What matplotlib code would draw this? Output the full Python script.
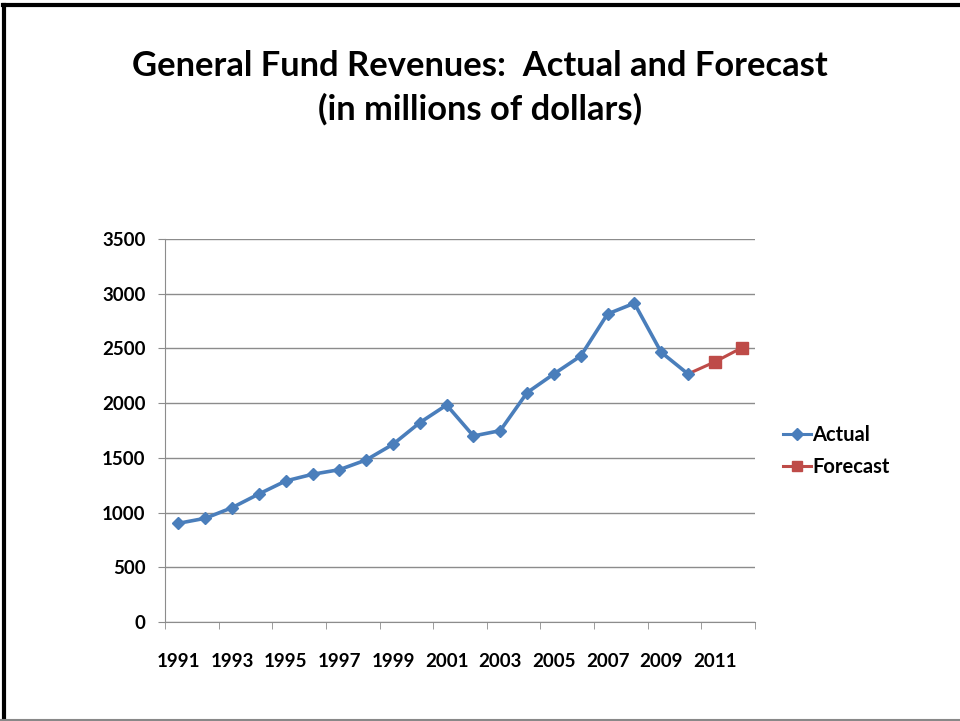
import numpy as np
import matplotlib
matplotlib.use("Agg")
import matplotlib.pyplot as plt
from matplotlib.lines import Line2D

years = list(range(1991, 2013))
actual = [902, 948, 1045, 1170, 1289, 1350, 1392, 1481, 1624, 1822, 1983,
          1700, 1749, 2096, 2267, 2431, 2815, 2913, 2465, 2267]
forecast_years = [2010, 2011, 2012]
forecast = [2267, 2377, 2505]
y_ticks = [0, 500, 1000, 1500, 2000, 2500, 3000, 3500]

blue = "#4A7EBB"
red = "#BE4B48"
plt.rcParams['font.family'] = ['Lato', 'DejaVu Sans']

fig = plt.figure(figsize=(9.6, 7.21), dpi=100)
ax = fig.add_axes([0.1719, 0.1373, 0.6146, 0.5312])

x_act = [years.index(y) for y in years[:len(actual)]]
x_fc = [years.index(y) for y in forecast_years]

ax.plot(x_fc, forecast, color=red, lw=2.2, marker='s', ms=8, markevery=[1, 2], zorder=3)
ax.plot(x_act, actual, color=blue, lw=2.6, marker='D', ms=6.5, zorder=4)

ax.set_xlim(-0.5, len(years) - 0.5)
ax.set_ylim(0, 3500)
ax.set_yticks(y_ticks)
ax.set_yticklabels([str(v) for v in y_ticks], fontsize=13.5, fontweight='bold')
ax.yaxis.grid(True, color='#8c8c8c', lw=1)
ax.set_axisbelow(True)

ax.set_xticks(range(0, len(years), 2))
ax.set_xticklabels([str(y) for y in years[::2]], fontsize=13.5, fontweight='bold')
ax.set_xticks(np.arange(-0.5, len(years), 2), minor=True)
ax.tick_params(axis='x', which='major', length=0, pad=22)
ax.tick_params(axis='x', which='minor', length=5, color='#8c8c8c', direction='out')
ax.tick_params(axis='y', length=5, color='#8c8c8c', pad=9)

for s in ['top', 'right']:
    ax.spines[s].set_visible(False)
for s in ['left', 'bottom']:
    ax.spines[s].set_color('#8c8c8c')

handles = [Line2D([], [], color=blue, lw=2.2, marker='D', ms=6),
           Line2D([], [], color=red, lw=2.2, marker='s', ms=7)]
fig.legend(handles, ['Actual', 'Forecast'], loc='center left',
           bbox_to_anchor=(0.797, 0.375), frameon=False, handlelength=1.4,
           handletextpad=0.05, labelspacing=0.6, prop={'weight': 'bold', 'size': 14.5})

fig.text(0.5, 0.909, "General Fund Revenues:  Actual and Forecast", ha='center', va='center',
         fontsize=24.8, fontweight='bold')
fig.text(0.5, 0.849, "(in millions of dollars)", ha='center', va='center',
         fontsize=24.8, fontweight='bold')

# slide border
fig.add_artist(Line2D([0.0045, 0.0045], [0, 0.993], color='black', lw=3, transform=fig.transFigure))
fig.add_artist(Line2D([0.003, 1], [0.993, 0.993], color='black', lw=3, transform=fig.transFigure))
fig.add_artist(Line2D([0, 1], [0.001, 0.001], color='#888888', lw=1.5, transform=fig.transFigure))

fig.savefig("out.png", dpi=100)
